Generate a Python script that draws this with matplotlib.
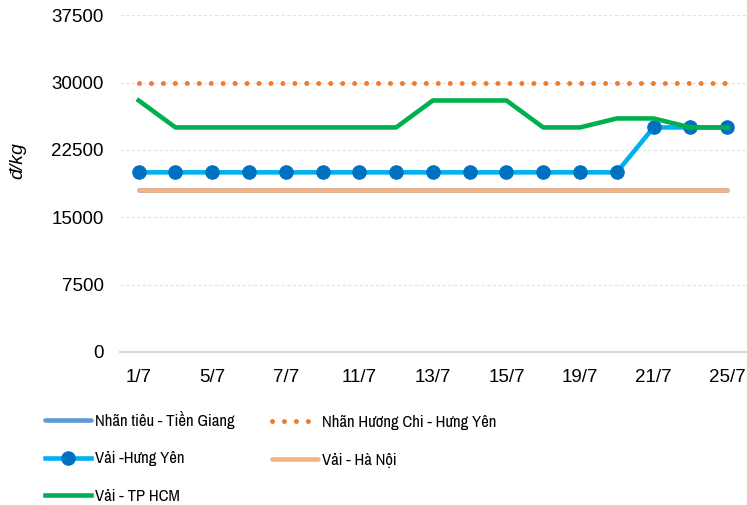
import matplotlib.pyplot as plt

plt.rcParams['font.family'] = ['Liberation Sans', 'DejaVu Sans']

dates = ["1/7", "4/7", "5/7", "6/7", "7/7", "8/7", "11/7", "12/7", "13/7",
         "14/7", "15/7", "18/7", "19/7", "20/7", "21/7", "22/7", "25/7"]

nhan_tieu_tg = [18000] * 17
nhan_huong_chi_hy = [30000] * 17
vai_hy = [20000] * 14 + [25000] * 3
vai_hn = [18000] * 17
vai_hcm = [28000, 25000, 25000, 25000, 25000, 25000, 25000, 25000, 28000,
           28000, 28000, 25000, 25000, 26000, 26000, 25000, 25000]

labels = ["Nhãn tiêu - Tiền Giang", "Nhãn Hương Chi - Hưng Yên",
          "Vải -Hưng Yên", "Vải - Hà Nội", "Vải - TP HCM"]

fig = plt.figure(figsize=(7.47, 5.05), dpi=100)
ax = fig.add_axes([0.161, 0.303, 0.837, 0.667])

x = list(range(len(dates)))
lw = 3.3
l1, = ax.plot(x, nhan_tieu_tg, color="#5B9BD5", lw=lw, solid_capstyle="round")
l2, = ax.plot(x, nhan_huong_chi_hy, color="#ED7D31", lw=3.6,
              linestyle=(0, (0.01, 2.38)), dash_capstyle="round")
l3, = ax.plot(x, vai_hy, color="#00B0F0", lw=lw, marker="o", markersize=9.5,
              markerfacecolor="#0070C0", markeredgecolor="#0070C0")
l4, = ax.plot(x, vai_hn, color="#F4B183", lw=lw, solid_capstyle="round")
l5, = ax.plot(x, vai_hcm, color="#00B050", lw=lw)

ax.set_xlim(-0.5, len(dates) - 0.5)
ax.set_ylim(0, 37500)
ax.set_yticks(range(0, 37501, 7500))
ax.set_xticks(x[::2])
ax.set_xticklabels(dates[::2])
ax.tick_params(axis="both", length=0, labelsize=13.5, colors="#000000")
ax.tick_params(axis="y", pad=12)
ax.tick_params(axis="x", pad=12)

ax.grid(axis="y", color="#e3e3e3", lw=0.8, linestyle=(0, (3, 2)))
ax.set_axisbelow(True)
for side in ["top", "right", "left"]:
    ax.spines[side].set_visible(False)
ax.spines["bottom"].set_color("#d9d9d9")
ax.spines["bottom"].set_linewidth(1.5)

fig.text(18 / 747, 1 - 161 / 505, "đ/kg", rotation=90, style="italic",
         fontsize=14, ha="center", va="center")

# two legend columns placed separately: left 1,3,5 ; right 2,4
leg_font = {"family": ["Archivo Narrow", "DejaVu Sans"], "size": 12}
leg_kw = dict(loc="upper left", frameon=False, borderaxespad=0, borderpad=0,
              handlelength=2.75, handletextpad=0.25, labelspacing=1.35,
              numpoints=1, prop=leg_font)
fig.legend([l1, l3, l5], [labels[0], labels[2], labels[4]],
           bbox_to_anchor=(45 / 747, 1 - 411 / 505), **leg_kw)
fig.legend([l2, l4], [labels[1], labels[3]],
           bbox_to_anchor=(272 / 747, 1 - 415 / 505), **leg_kw)

fig.savefig("out.png", dpi=100)
